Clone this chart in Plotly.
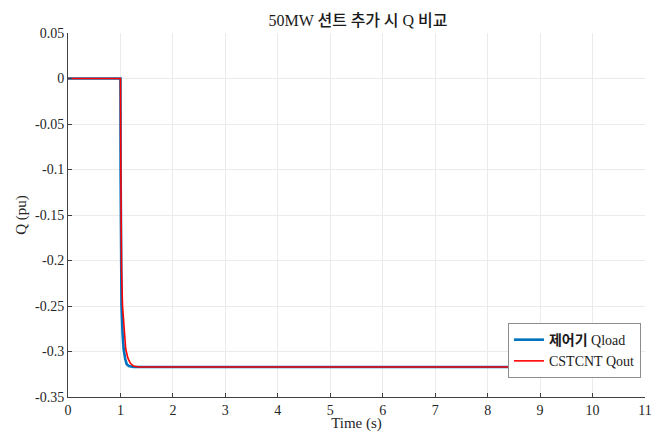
import plotly.graph_objects as go

# Data
t_load = [0, 1.0, 1.003, 1.006, 1.01, 1.02, 1.04, 1.06, 1.09, 1.12, 1.16, 1.25, 10]
q_load = [0, 0, -0.10, -0.17, -0.21, -0.25, -0.28, -0.297, -0.308, -0.314, -0.316, -0.317, -0.317]
t_out = [0, 1.0, 1.005, 1.01, 1.02, 1.04, 1.07, 1.10, 1.14, 1.19, 1.25, 1.35, 10]
q_out = [0, 0, -0.08, -0.15, -0.21, -0.25, -0.28, -0.297, -0.307, -0.313, -0.316, -0.317, -0.317]
x_ticks = list(range(0, 12))
y_ticks = [0.05, 0, -0.05, -0.1, -0.15, -0.2, -0.25, -0.3, -0.35]
y_tick_text = ["0.05", "0", "-0.05", "-0.1", "-0.15", "-0.2", "-0.25", "-0.3", "-0.35"]

SERIF = "Liberation Serif, Times New Roman, serif"
KR = "Noto Sans CJK KR"

fig = go.Figure()
fig.add_trace(go.Scatter(
    x=t_load, y=q_load, mode="lines",
    name=f"<span style='font-family:{KR};font-weight:bold'>제어기</span> Qload",
    line=dict(color="#0072BD", width=2.6),
))
fig.add_trace(go.Scatter(
    x=t_out, y=q_out, mode="lines",
    name="CSTCNT Qout",
    line=dict(color="#FF0000", width=1.6),
))

axis_common = dict(
    showgrid=True, gridcolor="#EBEBEB", gridwidth=1,
    showline=True, linecolor="#404040", linewidth=1,
    ticks="inside", ticklen=4, tickcolor="#404040",
    zeroline=False, automargin=False,
    tickfont=dict(family=SERIF, size=14, color="#262626"),
)

# page body has an 8px margin: figure is placed at (8, 8)
W, H = 644, 424
fig.update_layout(
    width=W, height=H,
    margin=dict(l=60, r=8 + W - 645, t=25, b=8 + H - 397),
    paper_bgcolor="white", plot_bgcolor="white",
    font=dict(family=SERIF, color="#262626"),
    title=dict(
        text=f"50MW <span style='font-family:{KR};font-weight:500'>션트 추가 시</span> Q <span style='font-family:{KR};font-weight:500'>비교</span>",
        x=(358 - 8) / W, xanchor="center",
        y=1 - 12 / H, yanchor="middle",
        font=dict(family=SERIF, size=16, color="#1a1a1a"),
    ),
    xaxis=dict(
        range=[0, 11], tickvals=x_ticks,
        title=dict(text="Time (s)", font=dict(family=SERIF, size=15), standoff=2),
        **axis_common,
    ),
    yaxis=dict(
        range=[-0.35, 0.05], tickvals=y_ticks, ticktext=y_tick_text,
        title=dict(text="Q (pu)", font=dict(family=SERIF, size=15), standoff=4),
        **axis_common,
    ),
    legend=dict(
        x=0.993, xanchor="right", y=0.052, yanchor="bottom",
        bgcolor="white", bordercolor="#8c8c8c", borderwidth=1,
        font=dict(family=SERIF, size=14, color="#1a1a1a"),
        tracegroupgap=0, itemwidth=30,
    ),
    showlegend=True,
)

fig.write_html("out.html")
